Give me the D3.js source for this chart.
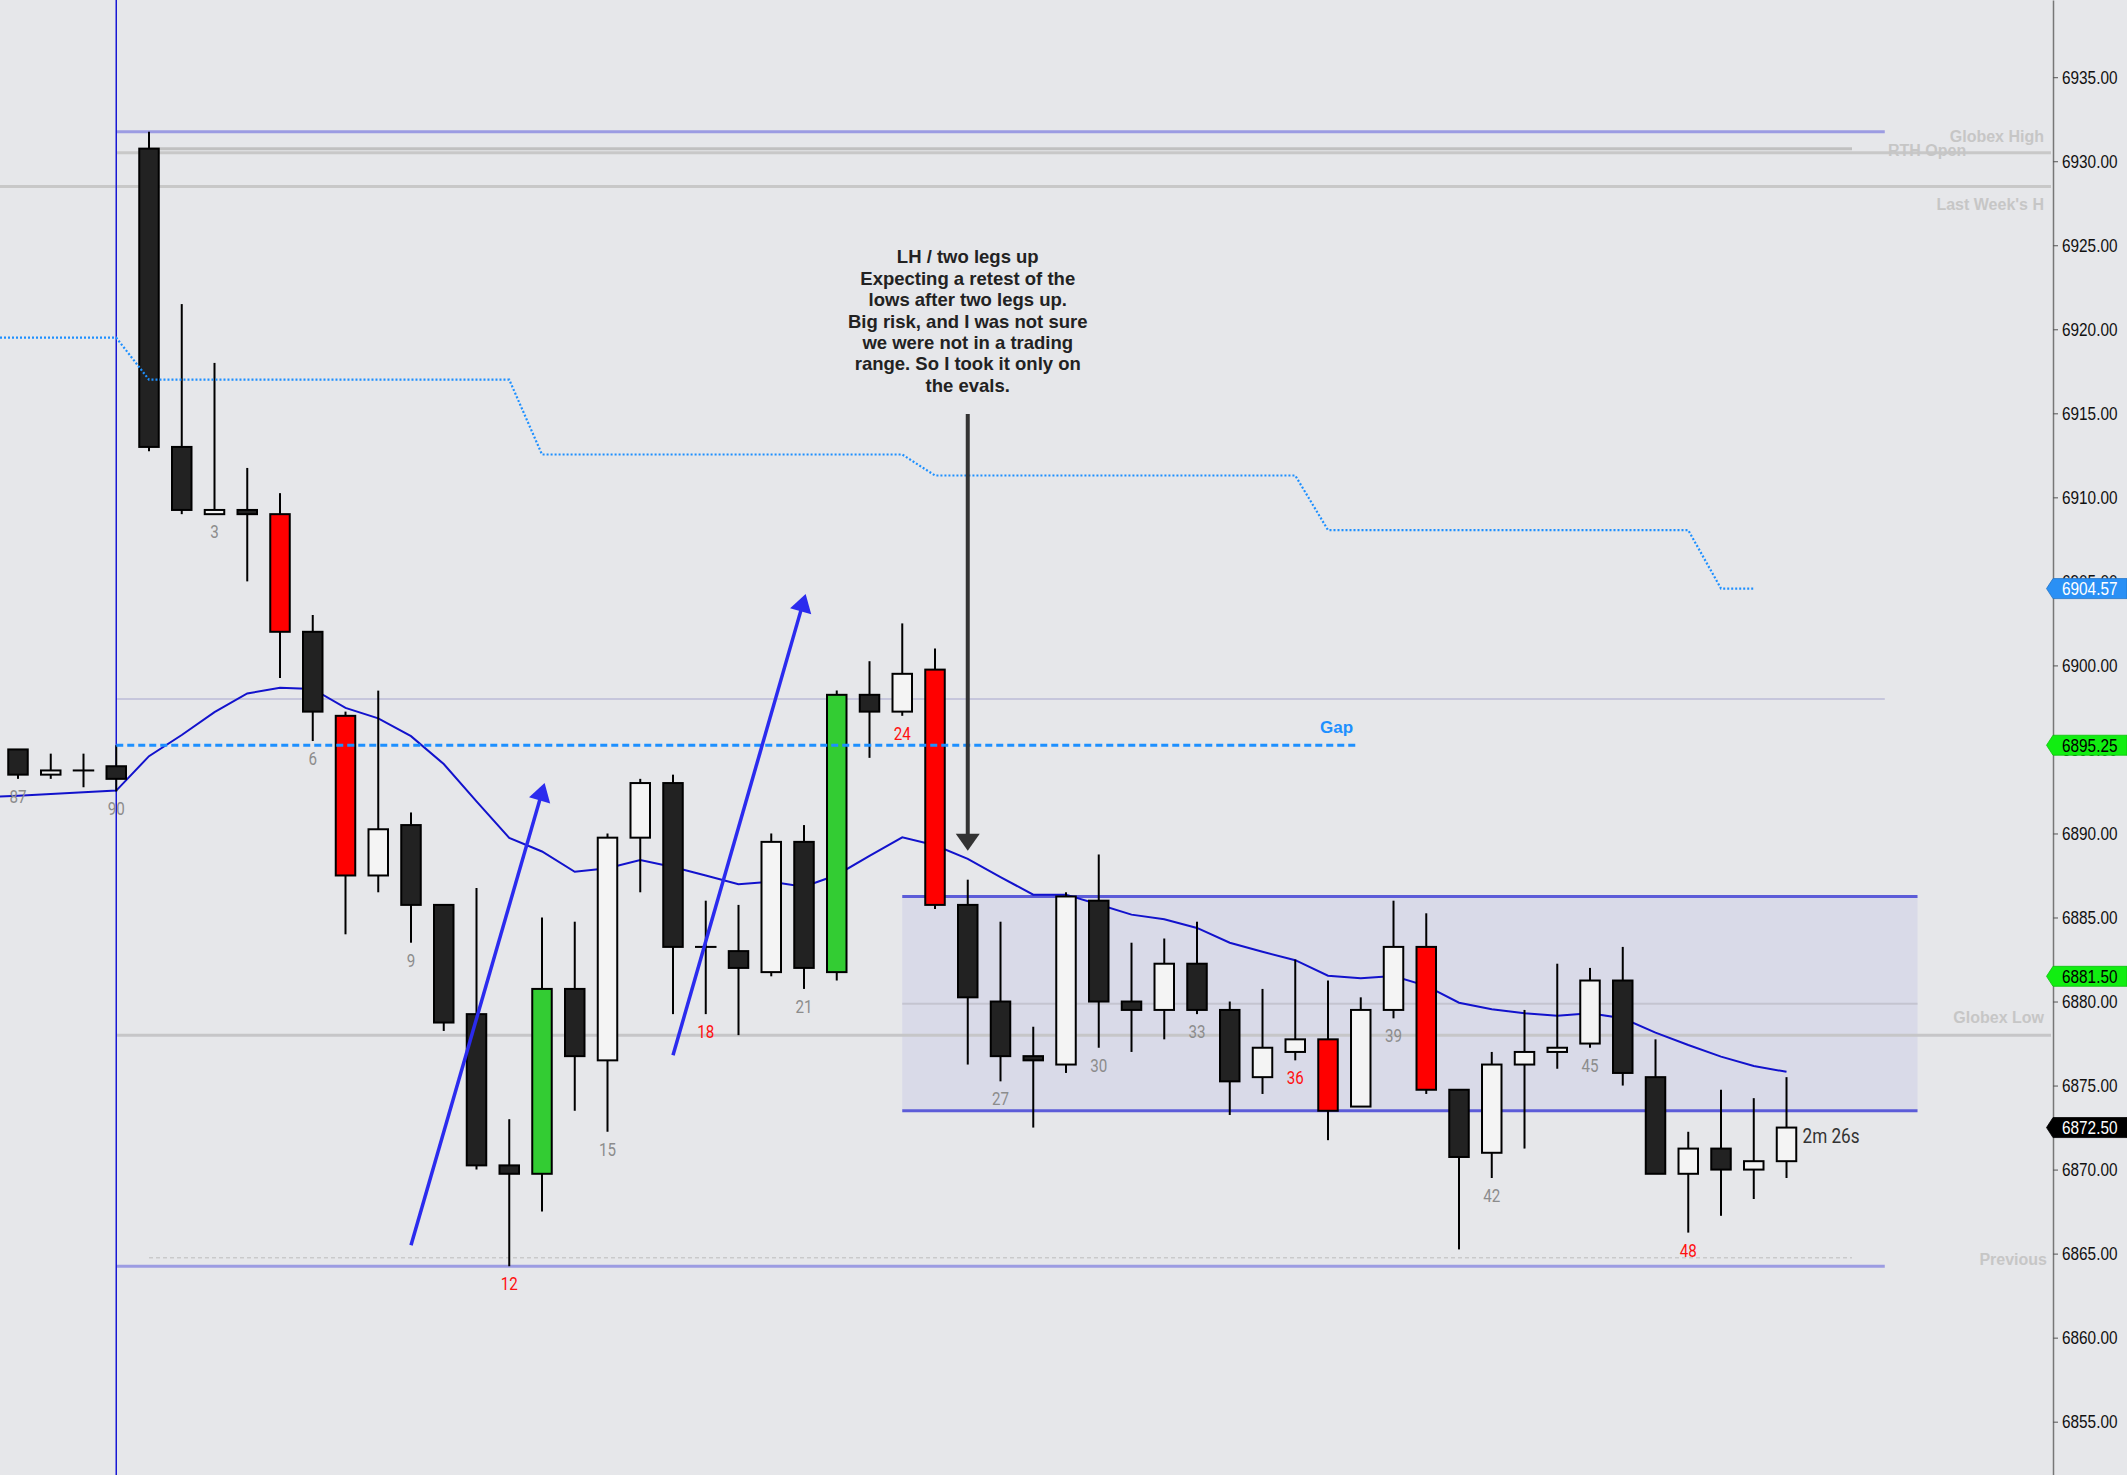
<!DOCTYPE html>
<html><head><meta charset="utf-8">
<script src="https://cdn.jsdelivr.net/npm/d3@7"></script>
<style>html,body{margin:0;padding:0;background:#e6e7ea;overflow:hidden}</style>
</head><body><svg id="c" width="2127" height="1475"></svg>
<script>
// ---------------- DATA ----------------
const barNums = [87,88,89,90,1,2,3,4,5,6,7,8,9,10,11,12,13,14,15,16,17,18,19,20,21,22,23,24,25,26,27,28,29,30,31,32,33,34,35,36,37,38,39,40,41,42,43,44,45,46,47,48,49,50,51];
const opens  = [6895.00,6893.50,6893.75,6894.00,6930.75,6913.00,6909.00,6909.25,6909.00,6902.00,6897.00,6887.50,6890.50,6885.75,6879.25,6870.25,6869.75,6880.75,6876.50,6889.75,6893.00,6883.25,6883.00,6881.75,6889.50,6881.75,6898.25,6897.25,6899.75,6885.75,6880.00,6876.75,6876.25,6886.00,6880.00,6879.50,6882.25,6879.50,6875.50,6877.00,6877.75,6873.75,6879.50,6883.25,6874.75,6871.00,6876.25,6877.00,6877.50,6881.25,6875.50,6869.75,6871.25,6870.00,6870.50];
const highs  = [6895.00,6894.75,6894.75,6895.25,6931.75,6921.50,6918.00,6911.75,6910.25,6903.00,6897.25,6898.50,6891.25,6885.75,6886.75,6873.00,6885.00,6884.75,6890.00,6893.25,6893.50,6886.00,6885.75,6890.00,6890.50,6898.50,6900.25,6902.50,6901.00,6887.25,6884.75,6878.50,6886.50,6888.75,6883.50,6883.75,6884.75,6880.00,6880.75,6882.50,6881.25,6880.25,6886.00,6885.25,6874.75,6877.00,6879.50,6882.25,6882.00,6883.25,6877.75,6872.25,6874.75,6874.25,6875.50];
const lows   = [6893.25,6893.25,6892.75,6892.50,6912.75,6909.00,6909.00,6905.00,6899.25,6895.50,6884.00,6886.50,6883.50,6878.25,6870.00,6864.25,6867.50,6873.50,6872.25,6886.50,6879.25,6879.25,6878.00,6881.50,6880.75,6881.25,6894.50,6897.00,6885.50,6876.25,6875.25,6872.50,6875.75,6877.25,6877.00,6877.75,6879.25,6873.25,6874.50,6876.50,6871.75,6873.75,6879.00,6874.50,6865.25,6869.50,6871.25,6876.00,6877.25,6875.00,6869.75,6866.25,6867.25,6868.25,6869.50];
const closes = [6893.50,6893.75,6893.75,6893.25,6913.00,6909.25,6909.25,6909.00,6902.00,6897.25,6887.50,6890.25,6885.75,6878.75,6870.25,6869.75,6880.75,6876.75,6889.75,6893.00,6883.25,6883.25,6882.00,6889.50,6882.00,6898.25,6897.25,6899.50,6885.75,6880.25,6876.75,6876.50,6886.25,6880.00,6879.50,6882.25,6879.50,6875.25,6877.25,6877.75,6873.50,6879.50,6883.25,6874.75,6870.75,6876.25,6877.00,6877.25,6881.25,6875.75,6869.75,6871.25,6870.00,6870.50,6872.50];
const redBodyBars   = [5,7,25,37,40];
const greenBodyBars = [13,22];
const labelBars     = [87,90,3,6,9,12,15,18,21,24,27,30,33,36,39,42,45,48];
const redLabelBars  = [12,18,24,36,48];
// 20 EMA, first value belongs to bar 86 (off-screen left)
const emaFirstBar = 86;
const emaValues = [6892.15,6892.25,6892.35,6892.45,6892.55,
  6894.60,6895.86,6897.22,6898.33,6898.67,6898.60,6897.47,6896.85,6895.79,6894.13,
  6891.91,6889.74,6888.93,6887.72,6887.93,6888.42,6888.00,6887.50,6886.98,6887.13,
  6886.83,6887.53,6888.66,6889.77,6889.30,6888.49,6887.40,6886.36,6886.36,6885.77,
  6885.17,6884.90,6884.38,6883.50,6882.96,6882.46,6881.54,6881.39,6881.52,6880.93,
  6879.93,6879.54,6879.30,6879.16,6879.30,6879.00,6878.15,6877.41,6876.72,6876.16,6875.82];
// dotted step series: value starts at these bars, last bar 50
const stepStartBars = [87,1,13,25,37,49];
const stepValues    = [6919.50,6917.00,6912.55,6911.30,6908.05,6904.57];
const stepLastBar   = 50;
const yTicks = [6855,6860,6865,6870,6875,6880,6885,6890,6895,6900,6905,6910,6915,6920,6925,6930,6935];
const tagValues = [6904.57,6895.25,6881.50,6872.50];
const gapPrice = 6895.25;
const boxTop = 6886.25, boxBottom = 6873.50;
const annotationLines = ["LH / two legs up","Expecting a retest of the","lows after two legs up.","Big risk, and I was not sure","we were not in a trading","range. So I took it only on","the evals."];
const timerText = "2m 26s";

// ---------------- LAYOUT ----------------
const W = 2127, H = 1475, AXIS_X = 2053;
const svg = d3.select('#c');
svg.append('rect').attr('width', W).attr('height', H).attr('fill', '#e6e7ea');
const x = d3.scaleLinear().domain([-0.5496, 62.137]).range([0, AXIS_X]);   // bar slot index
const y = d3.scaleLinear().domain([6851.827, 6939.594]).range([H, 0]);
const kOf = b => barNums.indexOf(b);
const xEdge = AXIS_X - 2;

svg.append('defs').append('clipPath').attr('id','clip').append('rect').attr('width', AXIS_X).attr('height', H);
const plot = svg.append('g').attr('clip-path','url(#clip)');

// range box
plot.append('rect').attr('x', x(27)).attr('width', x(58) - x(27))
  .attr('y', y(boxTop)).attr('height', y(boxBottom) - y(boxTop)).attr('fill', '#d9dae8');
plot.append('line').attr('x1', x(27)).attr('x2', x(58)).attr('y1', y((boxTop+boxBottom)/2)).attr('y2', y((boxTop+boxBottom)/2))
  .attr('stroke', '#c4c4d0').attr('stroke-width', 2);

// horizontal levels
const levels = [
  {p: 6931.75, x1: x(3), x2: x(57), c: '#9c9ce2', w: 3},
  {p: 6930.75, x1: x(4), x2: x(56), c: '#c0c0c0', w: 3},
  {p: 6930.50, x1: x(3), x2: xEdge, c: '#c8c8c8', w: 3},
  {p: 6928.50, x1: 0,    x2: xEdge, c: '#c8c8c8', w: 3},
  {p: 6898.00, x1: x(3), x2: x(57), c: '#c6c6dc', w: 2},
  {p: 6878.00, x1: x(3), x2: xEdge, c: '#c6c6c8', w: 3},
  {p: 6864.25, x1: x(3), x2: x(57), c: '#9c9ce2', w: 3}
];
levels.forEach(l => plot.append('line').attr('x1', l.x1).attr('x2', l.x2).attr('y1', y(l.p)).attr('y2', y(l.p))
  .attr('stroke', l.c).attr('stroke-width', l.w));
plot.append('line').attr('x1', x(4)).attr('x2', x(56)).attr('y1', y(6864.75)).attr('y2', y(6864.75))
  .attr('stroke', '#bdbdbd').attr('stroke-width', 1).attr('stroke-dasharray', '4,3');
// box borders
[boxTop, boxBottom].forEach(p => plot.append('line').attr('x1', x(27)).attr('x2', x(58)).attr('y1', y(p)).attr('y2', y(p))
  .attr('stroke', '#5c5cd8').attr('stroke-width', 3));

// session vertical line
plot.append('line').attr('x1', x(3)).attr('x2', x(3)).attr('y1', 0).attr('y2', H).attr('stroke', '#1818d4').attr('stroke-width', 1.5);

// EMA
const emaPts = emaValues.map((v, i) => [i - 1, v]);
plot.append('path').datum(emaPts).attr('fill', 'none').attr('stroke', '#1212cc').attr('stroke-width', 2)
  .attr('d', d3.line().x(d => x(d[0])).y(d => y(d[1])));

// candles
const cg = plot.append('g');
barNums.forEach((b, k) => {
  const o = opens[k], h = highs[k], l = lows[k], c = closes[k];
  const cx = x(k);
  cg.append('line').attr('x1', cx).attr('x2', cx).attr('y1', y(h)).attr('y2', y(l)).attr('stroke', '#000').attr('stroke-width', 2);
  let fill = c > o ? '#f4f4f4' : '#222222';
  if (redBodyBars.includes(b)) fill = '#ff0000';
  if (greenBodyBars.includes(b)) fill = '#33cc33';
  const top = y(Math.max(o, c)), bot = y(Math.min(o, c));
  cg.append('rect').attr('x', cx - 9.75).attr('width', 19.5).attr('y', top).attr('height', Math.max(0.01, bot - top))
    .attr('fill', fill).attr('stroke', '#000').attr('stroke-width', 2);
});

// dotted step line
const stepPts = [[x.domain()[0], stepValues[0]]];
barNums.forEach((b, k) => {
  if (k > kOf(stepLastBar)) return;
  let si = 0;
  stepStartBars.forEach((sb, j) => { if (kOf(sb) <= k) si = j; });
  stepPts.push([k, stepValues[si]]);
});
plot.append('path').datum(stepPts).attr('fill', 'none').attr('stroke', '#1e90ff').attr('stroke-width', 2.2)
  .attr('stroke-dasharray', '2,2').attr('d', d3.line().x(d => x(d[0])).y(d => y(d[1])));

// gap line
plot.append('line').attr('x1', x(3)).attr('x2', x(40.95)).attr('y1', y(gapPrice)).attr('y2', y(gapPrice))
  .attr('stroke', '#1e90ff').attr('stroke-width', 3).attr('stroke-dasharray', '7,4');
plot.append('text').attr('x', x(40.95) - 6).attr('y', y(gapPrice) - 12).attr('text-anchor', 'end')
  .attr('font-family', 'Liberation Sans, Arial, sans-serif').attr('font-weight', 'bold').attr('font-size', 17)
  .attr('fill', '#1e90ff').text('Gap');

// blue arrows
function arrow(g, p0, p1, color, w, headLen, headHalf) {
  const x0 = x(p0[0]), y0 = y(p0[1]), x1 = x(p1[0]), y1 = y(p1[1]);
  const dx = x1 - x0, dy = y1 - y0, L = Math.hypot(dx, dy), ux = dx / L, uy = dy / L;
  const bx = x1 - ux * headLen, by = y1 - uy * headLen;
  g.append('line').attr('x1', x0).attr('y1', y0).attr('x2', bx + ux * 2).attr('y2', by + uy * 2)
    .attr('stroke', color).attr('stroke-width', w);
  g.append('path').attr('fill', color)
    .attr('d', `M${x1},${y1}L${bx - uy * headHalf},${by + ux * headHalf}L${bx + uy * headHalf},${by - ux * headHalf}Z`);
}
arrow(plot, [12, 6865.5], [16.08, 6893.0], '#2b2bee', 3.5, 18, 11);
arrow(plot, [20, 6876.8], [24.05, 6904.25], '#2b2bee', 3.5, 18, 11);
arrow(plot, [29, 6914.96], [29, 6888.97], '#333333', 4, 17, 12);

// annotation text
const at = plot.append('text').attr('text-anchor', 'middle').attr('font-family', 'Liberation Sans, Arial, sans-serif')
  .attr('font-weight', 'bold').attr('font-size', 18.5).attr('fill', '#222');
annotationLines.forEach((s, i) => at.append('tspan').attr('x', x(29)).attr('y', y(6924.32) + i * 21.45).attr('dy', '0.35em').text(s));

// narrow regular text helper
function ntext(g, tx, ty, str, size, color, anchor, sx) {
  return g.append('g').attr('transform', `translate(${tx},${ty}) scale(${sx},1)`).append('text')
    .attr('text-anchor', anchor).attr('dy', '0.35em').attr('font-family', 'Roboto, "Noto Sans", sans-serif')
    .attr('font-size', size).attr('fill', color).text(str);
}
labelBars.forEach(b => {
  const k = kOf(b);
  ntext(plot, x(k), y(lows[k]) + 17.5, String(b), 18.5, redLabelBars.includes(b) ? '#ff1010' : '#8c8c8c', 'middle', 0.82);
});
ntext(plot, x(54) + 16, y(6872.0), timerText, 19.5, '#333', 'start', 0.88);

// level labels
const lvlFont = 'Liberation Sans, Arial, sans-serif';
function lvlLabel(tx, ty, s, anchor) {
  svg.append('text').attr('x', tx).attr('y', ty).attr('dy', '0.35em').attr('text-anchor', anchor)
    .attr('font-family', lvlFont).attr('font-weight', 'bold').attr('font-size', 16).attr('fill', '#c6c6c6').text(s);
}
lvlLabel(2044, y(6930.5) - 16.6, 'Globex High', 'end');
lvlLabel(x(57.1), y(6930.66), 'RTH Open', 'start');
lvlLabel(2044, y(6928.5) + 18.4, "Last Week's H", 'end');
lvlLabel(2044, y(6878.0) - 17.3, 'Globex Low', 'end');
lvlLabel(2047, y(6864.75) + 1.5, 'Previous', 'end');

// axis
const ax = svg.append('g').attr('transform', `translate(${AXIS_X},0)`)
  .call(d3.axisRight(y).tickValues(yTicks).tickFormat(d3.format('.2f')).tickSize(5).tickSizeOuter(0));
ax.select('.domain').attr('stroke', '#777').attr('stroke-width', 1.5);
ax.selectAll('.tick line').attr('stroke', '#555');
ax.selectAll('.tick text').attr('x', 0).attr('transform', 'translate(9,0) scale(0.83,1)')
  .attr('font-family', 'Liberation Sans, Arial, sans-serif').attr('font-size', 18.5).attr('fill', '#111');

// price tags
const tagStyle = [{bg: '#2a90f5', fg: '#fff'}, {bg: '#11ee11', fg: '#000'}, {bg: '#11ee11', fg: '#000'}, {bg: '#000', fg: '#fff'}];
tagValues.forEach((v, i) => {
  const ty = y(v), s = tagStyle[i];
  svg.append('path').attr('d', `M${AXIS_X - 6.5},${ty}L${AXIS_X},${ty - 10}L${W},${ty - 10}L${W},${ty + 10}L${AXIS_X},${ty + 10}Z`)
    .attr('fill', s.bg).attr('stroke', d3.color(s.bg).darker(0.6)).attr('stroke-width', 0.8);
  svg.append('g').attr('transform', `translate(${AXIS_X + 9},${ty}) scale(0.83,1)`).append('text')
    .attr('dy', '0.36em').attr('font-family', 'Liberation Sans, Arial, sans-serif').attr('font-size', 18.5)
    .attr('fill', s.fg).text(v.toFixed(2));
});
</script></body></html>
